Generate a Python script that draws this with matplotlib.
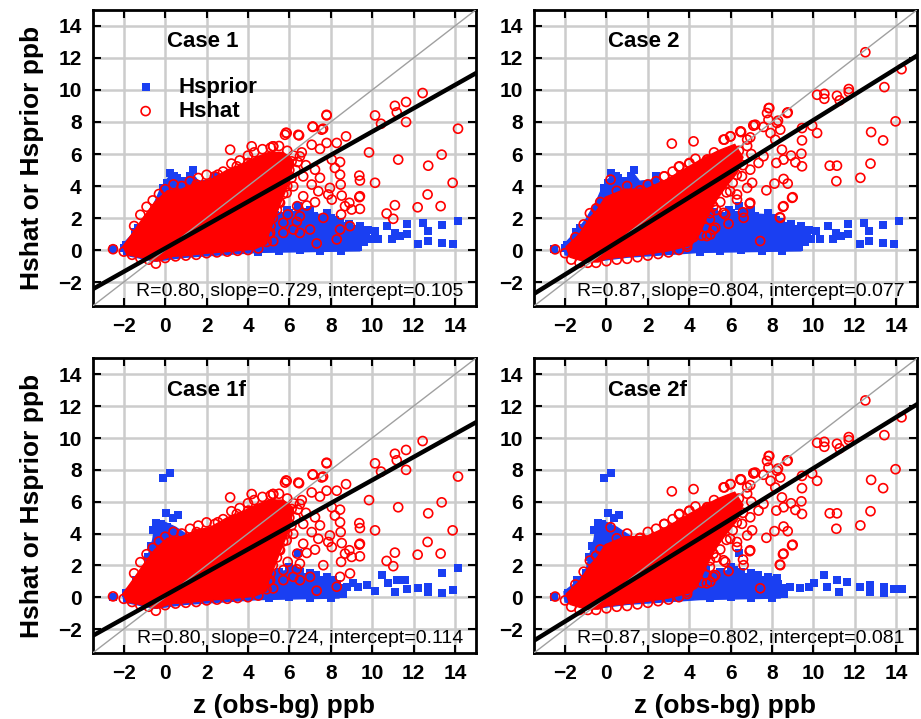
import matplotlib
matplotlib.use("Agg")
import matplotlib.pyplot as plt
import numpy as np

plt.rcParams['font.family'] = ['Liberation Sans', 'DejaVu Sans']

# ---- data (ppb) ----
cases = ["Case 1", "Case 2", "Case 1f", "Case 2f"]
r_vals = [0.80, 0.87, 0.80, 0.87]
slopes = [0.729, 0.804, 0.724, 0.802]
intercepts = [0.105, 0.077, 0.114, 0.081]
ticks = [-2, 0, 2, 4, 6, 8, 10, 12, 14]

# Hsprior, cases 1 and 2: saturated part of the cloud (outline) + single squares
prior12_core_x = [-2.0, -2.05, -1.5, -1.0, -0.5, -0.2, 0.2, 0.7, 1.3, 1.6, 2.4, 3.5, 4.5, 5.5, 6.6, 7.8, 8.4, 9.3, 9.5, 9.4, 4.5, 1.0, -0.5]
prior12_core_y = [-0.3, 0.35, 1.1, 1.9, 3.0, 3.9, 4.6, 4.2, 4.8, 4.3, 4.4, 3.8, 2.8, 2.1, 2.3, 2.2, 1.7, 1.4, 0.7, -0.05, -0.15, -0.45, -0.7]
prior12_x = [0.22, 0.45, 0.55, 0.8, 1.33, 1.2, -0.1, 0.1, 2.4, -1.45, -1.3, -1.9, -2.0, -2.52,
             4.5, 5.0, 5.3, 5.71, 6.0, 6.66, 6.42, 6.8, 7.2, 7.8, 8.0, 8.45, 8.6, 9.2, 9.41, 9.5, 9.6, 9.3, 8.5, 7.5, 6.5, 5.5, 4.5,
             5.9, 6.3, 7.0, 7.4, 8.2, 8.9, 9.7, 9.0, 5.2, 4.8,
             9.9, 10.14, 10.7, 11.1, 11.67, 11.67, 12.47, 12.71, 13.36, 14.16, 12.23, 12.71, 13.36, 13.89,
             10.3, 10.94, 11.35, 9.41, 9.81, 8.93, 9.09]
prior12_y = [4.83, 4.65, 4.5, 4.3, 5.0, 4.6, 3.9, 4.2, 4.6, 1.1, 1.35, 0.3, 0.1, 0.05,
             1.9, 2.0, 2.2, 2.11, 2.3, 2.34, 2.74, 2.4, 2.1, 2.34, 2.0, 1.72, 1.5, 1.3, 1.49, 1.0, 0.5, 0.2, -0.05, -0.05, 0.0, -0.05, -0.1,
             2.5, 2.2, 2.5, 2.0, 1.9, 1.6, 0.9, 1.1, 2.4, 2.1,
             0.66, 1.18, 1.49, 1.07, 1.6, 0.97, 1.7, 1.18, 1.55, 1.8, 0.35, 0.55, 0.45, 0.35,
             0.66, 0.66, 0.87, 0.77, 1.28, 1.28, 0.87]

# Hsprior, cases 1f and 2f
priorf_core_x = [-2.0, -2.05, -1.4, -1.0, -0.85, -0.6, -0.5, 0.0, 0.5, 1.2, 2.5, 4.0, 5.0, 6.0, 7.2, 8.3, 8.6, 8.4, 4.5, 1.0, -0.5]
priorf_core_y = [-0.3, 0.35, 1.0, 1.6, 2.5, 3.6, 4.5, 4.7, 4.4, 3.8, 3.5, 2.2, 1.5, 1.7, 1.3, 0.9, 0.3, -0.05, -0.15, -0.45, -0.7]
priorf_x = [-0.1, 0.22, 0.06, 0.62, 0.38, -0.43, -0.2, 0.1, -0.6, -0.83, -0.7, -0.99, -1.4, -1.88, -2.52,
            4.5, 5.0, 5.5, 6.0, 6.18, 6.42, 6.84, 7.0, 7.5, 7.8, 8.11, 8.3, 8.6, 8.0, 7.0, 6.0, 5.0,
            4.8, 5.3, 6.5, 7.3, 8.5]
priorf_y = [7.47, 7.78, 5.31, 5.16, 4.96, 4.64, 4.6, 4.4, 4.2, 2.54, 3.2, 1.5, 1.08, 0.25, 0.0,
            1.5, 1.2, 1.6, 1.9, 1.71, 2.78, 1.29, 1.5, 1.1, 1.29, 1.08, 0.8, 0.2, -0.05, -0.05, 0.0, -0.05,
            1.8, 1.4, 1.6, 1.4, 0.6]
prior1f_tail_x = [9.33, 9.74, 10.14, 10.46, 10.77, 11.19, 11.1, 11.59, 11.67, 12.21, 12.71, 12.71, 13.36, 13.36, 13.92, 14.16, 9.09, 8.77, 8.29, 7.72]
prior1f_tail_y = [0.66, 0.77, 0.41, 1.39, 0.87, 1.08, 0.35, 1.08, 0.5, 0.56, 0.66, 0.35, 1.5, 0.25, 0.45, 1.82, 0.87, 0.66, 0.45, 0.66]
prior2f_tail_x = [9.77, 10.01, 10.5, 10.66, 11.14, 11.22, 11.63, 12.27, 12.76, 12.76, 13.4, 13.4, 13.88, 14.29, 9.37, 8.89, 8.24, 7.76, 7.11]
prior2f_tail_y = [0.66, 0.87, 1.39, 0.66, 1.08, 0.35, 0.97, 0.66, 0.77, 0.35, 0.66, 0.25, 0.5, 0.5, 0.56, 0.66, 1.18, 1.08, 1.29]

# Hshat, cases 1 and 1f
hat1_core_x = [-1.84, -2.04, -1.55, -1.07, -0.5, 0.1, 0.8, 1.5, 2.2, 3.0, 3.6, 4.4, 5.0, 5.7, 6.2, 6.0, 5.6, 5.3, 5.0, 4.9, 4.3, 3.0, 2.0, 1.0, 0.3, -0.4, -0.9, -1.4]
hat1_core_y = [-0.3, 0.22, 1.1, 2.0, 3.0, 3.7, 3.8, 4.2, 4.4, 5.0, 5.3, 5.8, 6.1, 6.1, 5.6, 4.3, 3.0, 2.0, 1.0, 0.4, 0.05, -0.1, -0.2, -0.35, -0.4, -0.7, -0.55, -0.4]
hat1_x = [-2.52, -1.5, -1.2, -0.9, -0.6, -0.3, 0.0, 0.4, 0.8, 1.2, 1.6, 2.0, 2.4, 2.8, 3.2, 3.6, 4.0, 4.3, 4.7, 5.1, 5.5, 5.9, 6.2, 6.4, 6.3, 6.1, 5.9, 5.7, 5.5, 5.4, 5.2, 5.1, 5.0, 4.9,
          -2.0, -1.6, -1.2, -0.8, -0.45, 0.0, 0.5, 1.0, 1.5, 2.0, 2.5, 3.0, 3.5, 4.0, 4.5,
          1.52, 2.55, 3.14, 3.46, 4.02, 4.18, 5.22, 5.79, 5.87, 6.43, 7.13, 7.56, 7.8,
          5.22, 5.55, 6.11, 6.51, 6.67, 6.19, 6.67, 5.87, 5.55, 6.51, 5.71,
          5.8, 6.0, 5.6, 5.3, 5.0, 4.9, 4.7, 6.6, 6.8,
          12.44, 11.1, 11.64, 11.19, 11.64, 10.14, 10.43, 14.15, 7.8, 7.13, 7.63, 5.84, 6.47, 8.74, 5.21, 7.08, 7.8, 8.29,
          7.48, 9.85, 13.36, 11.26, 12.71, 8.45, 8.05, 7.24, 8.2, 7.48, 8.45, 9.38, 9.41, 10.14, 13.89, 7.08, 7.96, 8.48,
          7.4, 7.88, 8.53, 12.68, 9.38, 8.05, 7.24, 8.69, 9.01, 9.41, 8.9, 11.1, 12.2, 13.31, 10.7, 11.02, 8.5, 6.38,
          6.84, 5.92, 6.36, 6.19, 7.0, 6.51, 5.07, 5.71, 8.45, 8.29, 7.32, 5.22, 7.64, 8.93, 9.41]
hat1_y = [0.05, 1.5, 2.2, 2.7, 3.1, 3.5, 3.8, 4.1, 4.0, 4.3, 4.5, 4.7, 4.6, 4.9, 5.4, 5.6, 5.9, 6.1, 6.3, 6.4, 6.5, 6.2, 5.9, 5.5, 5.0, 4.5, 4.0, 3.5, 3.0, 2.5, 2.0, 1.5, 1.0, 0.5,
          -0.1, -0.3, -0.5, -0.6, -0.85, -0.5, -0.4, -0.35, -0.3, -0.2, -0.15, -0.1, -0.05, 0.0, 0.1,
          4.09, 4.71, 6.27, 5.23, 5.44, 6.48, 6.48, 7.2, 7.31, 7.2, 7.72, 7.52, 8.45,
          5.85, 5.02, 5.54, 5.85, 4.6, 3.98, 3.36, 3.57, 2.95, 2.11, 1.07,
          5.5, 5.0, 4.4, 3.2, 2.6, 1.8, 1.2, 6.1, 5.3,
          9.81, 9.01, 9.25, 8.6, 8.0, 8.41, 7.89, 7.58, 8.41, 7.69, 7.58, 7.33, 7.16, 7.1, 6.48, 6.58, 6.69, 6.69,
          6.32, 6.1, 5.96, 5.65, 5.27, 5.5, 5.65, 5.02, 5.13, 4.51, 4.71, 4.65, 4.34, 4.2, 4.2, 4.09, 3.88, 4.09,
          3.67, 3.47, 3.4, 3.47, 3.3, 3.15, 2.99, 2.74, 2.53, 2.57, 2.95, 2.8, 2.67, 2.74, 2.28, 1.95, 2.22, 2.74,
          2.78, 2.22, 1.76, 1.28, 1.28, 1.07, 1.07, 1.7, 1.28, 0.66, 0.41, 0.55, 2.01, 1.49, 3.36]

# Hshat, cases 2 and 2f
hat2_core_x = [-1.76, -1.95, -1.3, -0.8, -0.45, -0.05, 0.9, 1.9, 2.9, 3.7, 4.5, 5.4, 6.2, 6.6, 6.3, 5.8, 5.3, 4.8, 4.5, 4.1, 3.0, 2.0, 1.0, 0.0, -0.4, -1.0]
hat2_core_y = [-0.45, 0.2, 1.0, 2.0, 2.5, 3.3, 3.8, 3.8, 4.4, 5.0, 5.6, 6.2, 6.6, 5.8, 4.8, 4.0, 3.1, 1.9, 1.0, 0.3, -0.05, -0.25, -0.4, -0.55, -0.75, -0.75]
hat2_x = [-2.48, -1.5, -1.1, -0.8, -0.5, -0.3, 0.2, 0.5, 1.0, 1.6, 2.0, 2.4, 2.8, 3.2, 3.5, 4.0, 4.3, 4.9, 5.2, 5.7, 6.0, 6.5, 7.1, 6.8, 7.0, 6.6, 6.3, 6.1, 5.8, 5.5, 5.3, 5.0, 4.8, 4.6,
          -2.0, -1.7, -1.3, -0.9, -0.5, 0.0, 0.5, 1.0, 1.5, 2.0, 2.5, 3.0, 3.5, 3.9,
          1.63, 2.79, 3.16, 4.21, 3.53, 4.01, 4.86, 5.66, 5.98, 6.47, 7.11, 7.84, 8.73, 8.24,
          4.85, 5.17, 3.89, 7.43, 6.63, 6.31, 5.66, 5.17, 6.95, 8.4, 8.56, 8.97,
          5.5, 5.9, 6.2, 5.2, 4.9, 4.6, 4.4, 4.2, 6.8, 6.4, 5.0, 5.6,
          12.51, 14.26, 13.43, 13.97, 12.79, 13.37, 12.76, 12.27, 11.11, 10.79, 11.14, 10.18, 10.53, 10.53, 11.14, 11.27,
          11.71, 11.71, 10.18, 9.94, 9.45, 8.76, 7.87, 8.29, 7.83, 7.19, 7.59, 8.4, 6.5, 7.93, 6.95, 8.16, 9.45, 8.48,
          9.42, 8.92, 8.21, 8.56, 9.45, 9.13, 7.35, 7.59, 8.56, 8.76, 8.12, 7.73, 9.0, 8.53, 8.38, 6.92, 6.6, 5.74,
          5.26, 5.9, 5.02, 5.98, 6.95, 6.55, 7.04, 6.8, 6.31, 7.76]
hat2_y = [0.04, 0.8, 1.6, 2.3, 2.6, 3.0, 4.4, 3.7, 4.0, 3.7, 4.1, 4.3, 4.6, 4.9, 5.2, 5.4, 5.7, 5.65, 6.1, 6.9, 7.1, 7.4, 7.8, 6.5, 6.0, 5.3, 4.7, 4.2, 3.6, 3.0, 2.5, 1.9, 1.4, 0.9,
          -0.2, -0.6, -0.8, -0.8, -0.8, -0.7, -0.6, -0.55, -0.45, -0.35, -0.25, -0.15, 0.0, 0.2,
          3.73, 4.6, 6.65, 6.79, 5.23, 5.44, 5.65, 6.9, 7.1, 7.41, 7.77, 8.87, 8.56, 7.94,
          0.87, 1.28, 0.35, 0.56, 2.01, 3.15, 2.32, 2.74, 2.95, 2.01, 2.74, 3.26,
          4.5, 5.0, 5.6, 3.8, 3.0, 2.4, 1.6, 0.8, 6.9, 6.2, 2.3, 4.2,
          12.36, 11.3, 10.18, 8.04, 7.37, 6.85, 5.4, 4.51, 4.3, 5.27, 5.27, 9.7, 9.76, 9.45, 9.64, 9.35,
          10.06, 9.87, 7.31, 7.77, 7.62, 8.6, 8.87, 8.08, 8.14, 7.83, 7.69, 7.52, 7.37, 7.31, 7.04, 6.89, 6.85, 6.27,
          6.02, 5.9, 5.44, 5.65, 5.23, 5.48, 5.44, 5.86, 4.44, 4.15, 4.15, 3.73, 3.3, 2.7, 2.05, 2.89, 2.36, 2.22,
          1.39, 1.64, 0.97, 3.67, 5.02, 4.61, 4.2, 3.88, 3.47, 8.56]

blue = "#1a3ff2"
red = "#ff0000"

panels = [
    dict(prior_core=(prior12_core_x, prior12_core_y), prior=(prior12_x, prior12_y),
         hat_core=(hat1_core_x, hat1_core_y), hat=(hat1_x, hat1_y)),
    dict(prior_core=(prior12_core_x, prior12_core_y), prior=(prior12_x, prior12_y),
         hat_core=(hat2_core_x, hat2_core_y), hat=(hat2_x, hat2_y)),
    dict(prior_core=(priorf_core_x, priorf_core_y), prior=(priorf_x + prior1f_tail_x, priorf_y + prior1f_tail_y),
         hat_core=(hat1_core_x, hat1_core_y), hat=(hat1_x, hat1_y)),
    dict(prior_core=(priorf_core_x, priorf_core_y), prior=(priorf_x + prior2f_tail_x, priorf_y + prior2f_tail_y),
         hat_core=(hat2_core_x, hat2_core_y), hat=(hat2_x, hat2_y)),
]

positions = [[0.1007, 0.5744, 0.4157, 0.4117], [0.5798, 0.5744, 0.4157, 0.4117],
             [0.1007, 0.0919, 0.4157, 0.4096], [0.5798, 0.0919, 0.4157, 0.4096]]

fig = plt.figure(figsize=(9.21, 7.19), dpi=100)

for i, p in enumerate(panels):
    ax = fig.add_axes(positions[i])
    ax.set_xlim(-3.5, 15)
    ax.set_ylim(-3.5, 15)
    ax.set_xticks(ticks)
    ax.set_yticks(ticks)
    ax.grid(True, color="#cccccc", lw=1.8)
    ax.set_axisbelow(True)
    ax.tick_params(direction="in", top=True, right=True, length=6, width=1.5,
                   labelsize=15, pad=8)
    for lab in ax.get_xticklabels() + ax.get_yticklabels():
        lab.set_fontweight("bold")
    for sp in ax.spines.values():
        sp.set_linewidth(2)

    ax.fill(*p["prior_core"], color=blue, lw=1, zorder=2)
    sq = ax.scatter(*p["prior"], marker="s", s=30, color=blue, lw=0, zorder=2, label="Hsprior")
    ax.fill(*p["hat_core"], color=red, lw=1, zorder=3)
    ci = ax.scatter(*p["hat"], marker="o", s=42, facecolors="none", edgecolors=red,
                    lw=1.2, zorder=3, label="Hshat")

    lim = np.array([-3.5, 15])
    ax.plot(lim, lim, color="#a0a0a0", lw=1, zorder=4)
    ax.plot(lim, slopes[i] * lim + intercepts[i], color="black", lw=3.2, zorder=5)

    ax.text(0.1, 13.0, cases[i], fontsize=16, fontweight="bold", ha="left", va="center", zorder=6)
    ax.text(14.4, -2.6, "R=%.2f, slope=%.3f, intercept=%.3f" % (r_vals[i], slopes[i], intercepts[i]),
            fontsize=14, ha="right", va="center", zorder=6)

    if i % 2 == 0:
        ax.set_ylabel("Hshat or Hsprior ppb", fontsize=19, fontweight="bold", labelpad=10)
    if i >= 2:
        ax.set_xlabel("z (obs-bg) ppb", fontsize=19, fontweight="bold", labelpad=8)
    if i == 0:
        ax.legend(handles=[sq, ci], loc="upper left", bbox_to_anchor=(0.08, 0.775),
                  frameon=False, prop={"weight": "bold", "size": 16}, handletextpad=0.5,
                  labelspacing=0.15, borderpad=0, borderaxespad=0, scatterpoints=1)

fig.savefig("out.png", dpi=100)
